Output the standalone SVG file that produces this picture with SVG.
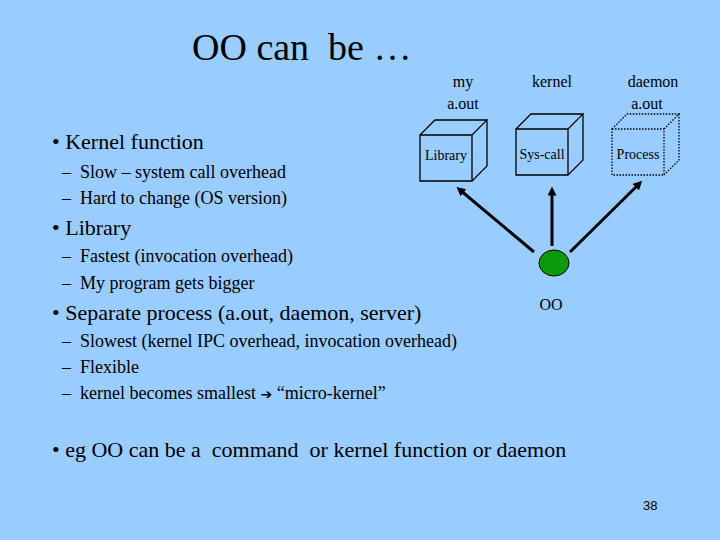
<svg xmlns="http://www.w3.org/2000/svg" width="720" height="540" viewBox="0 0 720 540">
<style>
text{font-family:"Times New Roman",Times,"Liberation Serif","Nimbus Roman","DejaVu Serif",serif;fill:#000}
.b{font-size:22px}.s{font-size:18px}.l{font-size:16px}.c{font-size:14px}
.cube{fill:none;stroke:#000;stroke-width:1.3}
.dot{stroke-dasharray:1.5 1.5}
.ar{stroke:#000;stroke-width:3;fill:none}
</style>
<defs><marker id="a" viewBox="0 0 10 10" refX="5" refY="5" markerWidth="3" markerHeight="3" orient="auto"><path d="M0,0L10,5L0,10z" fill="#000"/></marker></defs>
<rect width="720" height="540" fill="#99CCFF"/>
<text x="192" y="60" style="font-size:38px" xml:space="preserve">OO can  be …</text>
<text x="52" y="149" class="b">• Kernel function</text>
<text x="62" y="178" class="s" xml:space="preserve">–  Slow – system call overhead</text>
<text x="62" y="204" class="s" xml:space="preserve">–  Hard to change (OS version)</text>
<text x="52" y="235" class="b">• Library</text>
<text x="62" y="262" class="s" xml:space="preserve">–  Fastest (invocation overhead)</text>
<text x="62" y="289" class="s" xml:space="preserve">–  My program gets bigger</text>
<text x="52" y="320" class="b">• Separate process (a.out, daemon, server)</text>
<text x="62" y="347" class="s" xml:space="preserve">–  Slowest (kernel IPC overhead, invocation overhead)</text>
<text x="62" y="373" class="s" xml:space="preserve">–  Flexible</text>
<text x="62" y="399" class="s" xml:space="preserve">–  kernel becomes smallest <tspan style="font-family:'DejaVu Sans',sans-serif;font-size:14px">➔</tspan> “micro-kernel”</text>
<text x="52" y="457" class="b" xml:space="preserve">• eg OO can be a  command  or kernel function or daemon</text>
<text x="643" y="510" style="font-family:'Liberation Sans',Arial,sans-serif;font-size:13px">38</text>
<g id="lib"><text x="463" y="87" class="l" text-anchor="middle">my</text><text x="463" y="109" class="l" text-anchor="middle">a.out</text>
<path class="cube" d="M420,135H472V181H420ZM420,135L435,120H487L472,135M487,120V166L472,181"/>
<text x="446" y="160" class="c" text-anchor="middle">Library</text></g>
<g id="sys"><text x="552" y="87" class="l" text-anchor="middle">kernel</text>
<path class="cube" d="M516,129H568V175H516ZM516,129L531,114H583L568,129M583,114V160L568,175"/>
<text x="542" y="159" class="c" text-anchor="middle">Sys-call</text></g>
<g id="proc"><text x="653" y="87" class="l" text-anchor="middle">daemon</text><text x="647" y="109" class="l" text-anchor="middle">a.out</text>
<path class="cube dot" d="M612,129H664V175H612ZM612,129L627,114H679L664,129M679,114V160L664,175"/>
<text x="638" y="159" class="c" text-anchor="middle">Process</text></g>
<g id="oo"><ellipse cx="554" cy="263" rx="15" ry="13" fill="#0A9A0A" stroke="#000" stroke-width="1"/>
<text x="551" y="310" class="l" text-anchor="middle">OO</text></g>
<g id="connectors">
<line class="ar" x1="534" y1="252" x2="460" y2="190" marker-end="url(#a)"/>
<line class="ar" x1="552" y1="246" x2="552" y2="191" marker-end="url(#a)"/>
<line class="ar" x1="570" y1="252" x2="639" y2="184" marker-end="url(#a)"/>
</g>
</svg>
